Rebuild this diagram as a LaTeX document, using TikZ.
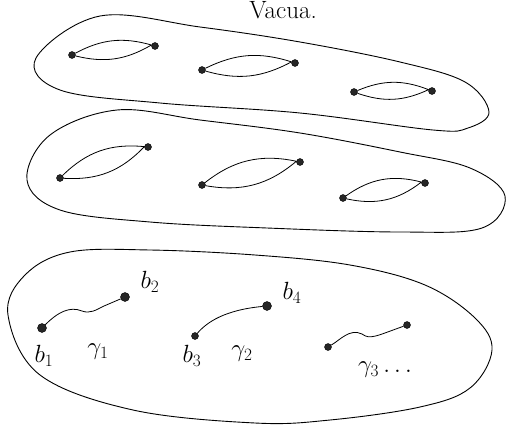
\documentclass[tikz,border=0pt]{standalone}
\usepackage{tikz}
\usetikzlibrary{positioning}

\begin{document}
\begin{tikzpicture}[x=1pt,y=-1pt, every node/.style={font=\fontsize{25}{30}\selectfont},
  sheet/.style={line width=0.9pt,smooth cycle,tension=0.6},
  cut/.style={line width=0.8pt},
  brpt/.style={circle,fill=black!85,draw=black,inner sep=0pt,minimum size=7pt},
  bigpt/.style={brpt,minimum size=9pt}]
  \useasboundingbox (0,0) rectangle (510,428);
  \node[anchor=base] (title) at (283,19) {Vacua.};
  % three sheets
  \draw[sheet] plot coordinates {(100,16) (200,27) (300,42) (400,62) (465,82) (489,112) (468,128) (433,130) (300,113) (160,103) (60,90) (36,58)};
  \draw[sheet] plot coordinates {(117,110) (200,120) (300,133) (400,152) (470,168) (505,196) (482,228) (400,232) (267,228) (150,222) (60,210) (27,180) (50,135)};
  \draw[sheet] plot coordinates {(70,252) (150,250) (255,255) (350,265) (425,285) (475,318) (492,350) (470,388) (420,407) (330,420) (255,423) (133,410) (40,375) (8,315) (25,275)};
  % cuts on the top sheet
  \node[brpt] (ta1) at (72,55) {};  \node[brpt] (tb1) at (155,46) {};
  \node[brpt] (ta2) at (202,70) {}; \node[brpt] (tb2) at (295,63) {};
  \node[brpt] (ta3) at (354,92) {}; \node[brpt] (tb3) at (432,91) {};
  \foreach \i in {1,2,3}
    \draw[cut] (ta\i) to[bend left=22] (tb\i) to[bend left=22] (ta\i);
  % cuts on the middle sheet
  \node[brpt] (ma1) at (60,178) {};  \node[brpt] (mb1) at (148,147) {};
  \node[brpt] (ma2) at (202,185) {}; \node[brpt] (mb2) at (300,162) {};
  \node[brpt] (ma3) at (343,198) {}; \node[brpt] (mb3) at (425,183) {};
  \foreach \i in {1,2,3}
    \draw[cut] (ma\i) to[bend left=25] (mb\i) to[bend left=25] (ma\i);
  % branch points and paths on the bottom sheet
  \node[bigpt] (b1) at (42,328) {};
  \node[bigpt] (b2) at (125,297) {};
  \node[brpt] (b3) at (195,336) {};
  \node[bigpt] (b4) at (267,306) {};
  \node[brpt] (c1) at (328,347) {};
  \node[brpt] (c2) at (407,325) {};
  \draw[cut] (b1) .. controls (58,312) and (70,306) .. (82,311)
    .. controls (90,314) and (96,310) .. (104,306) -- (b2);
  \draw[cut] (b3) .. controls (207,322) and (225,310) .. (b4);
  \draw[cut] (c1) .. controls (340,340) and (350,328) .. (362,334)
    .. controls (370,340) and (376,336) .. (c2);
  \node (lb1) at (44,356) {$b_1$};
  \node (lb2) at (150,282) {$b_2$};
  \node (lb3) at (192,356) {$b_3$};
  \node (lb4) at (292,293) {$b_4$};
  \node (lg1) at (98,352) {$\gamma_1$};
  \node (lg2) at (242,354) {$\gamma_2$};
  \node (lg3) at (385,370) {$\gamma_3\ldots$};
\end{tikzpicture}
\end{document}
